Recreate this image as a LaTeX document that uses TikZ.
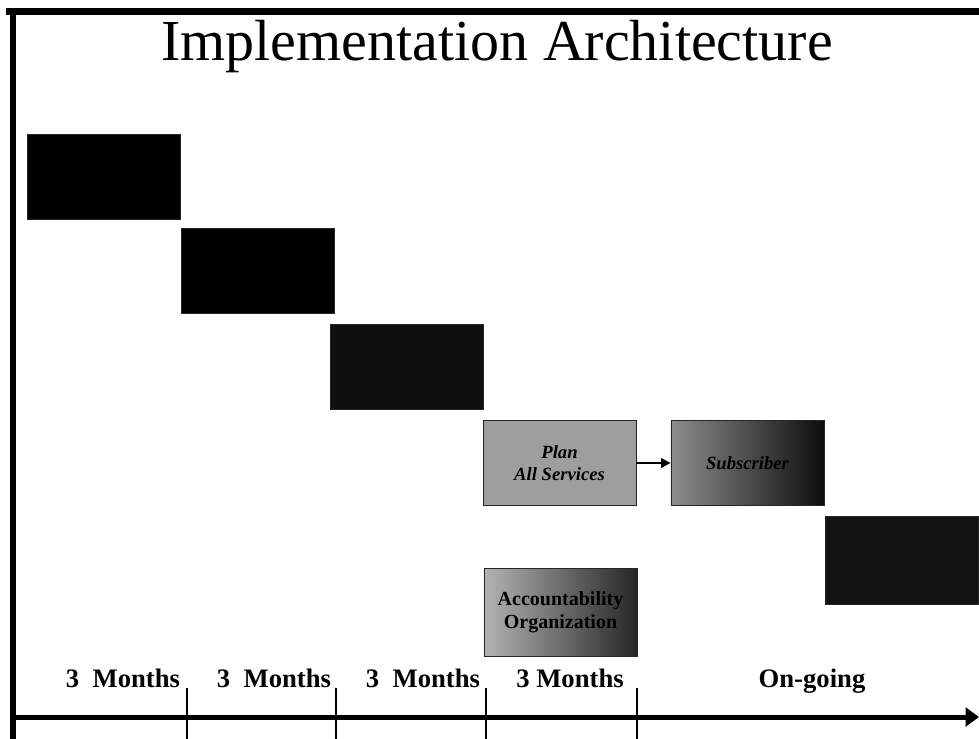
\documentclass[tikz,border=0pt]{standalone}
\usepackage{fontspec}
\setmainfont{Liberation Serif}
\usepackage{tikz}
\usetikzlibrary{arrows.meta}

\begin{document}
\begin{tikzpicture}[x=0.75pt,y=-0.75pt,%
    phase/.style={
      draw=black!85,
      thin,
      rectangle,
      inner sep=0,
      minimum width=115pt,
      minimum height=64pt,
      font=\fontsize{14}{16}\selectfont\bfseries\itshape,
      align=center
    },
    months/.style={anchor=base,font=\fontsize{20}{22}\selectfont\bfseries}]
    \useasboundingbox (0,0) rectangle (979,739);
    % frame
    \draw[line width=5.25pt] (6,11.5) -- (979,11.5);
    \draw[line width=4.5pt] (13,8) -- (13,739);
    \node[anchor=base,font=\fontsize{43.5}{48}\selectfont] at (497,60) (title) {Implementation Architecture};

    % phases
    \node[phase,fill=black] at (103.5,176.5) (p1) {};
    \node[phase,fill=black] at (257.5,271) (p2) {};
    \node[phase,fill=black!94] at (406.5,366.5) (p3) {};
    \node[phase,fill=black!38] at (559.5,463) (plan) {Plan\\All Services};
    \node[phase,left color=black!45,right color=black!95] at (747.5,463) (sub) {Subscriber};
    \node[phase,fill=black!93,minimum height=66pt] at (902,560) (p6) {};
    \node[phase,left color=black!30,right color=black!85,minimum height=66pt,
          font=\fontsize{15}{17}\selectfont\bfseries] at (560.5,612) (acc) {Accountability\\Organization};

    \path[draw,line width=1.5pt,-{Triangle[length=7pt,width=7pt]}]
        (plan) edge node {} (sub)
        ;

    % time line
    \coordinate (t0) at (13,717);
    \coordinate (t1) at (979,717);
    \draw[line width=3.75pt,-{Triangle[length=10pt,width=14pt]}] (t0) -- (t1);
    \foreach \x/\w in {187/1.5pt,336/0.8pt,486/1.5pt,637/0.8pt}
        \draw[line width=\w] (\x,688) -- (\x,739);

    \node[months] at (123,687) (m1) {3\ \ Months};
    \node[months] at (274,687) (m2) {3\ \ Months};
    \node[months] at (423,687) (m3) {3\ \ Months};
    \node[months] at (570,687) (m4) {3 Months};
    \node[months] at (812,687) (m5) {On-going};
\end{tikzpicture}
\end{document}
